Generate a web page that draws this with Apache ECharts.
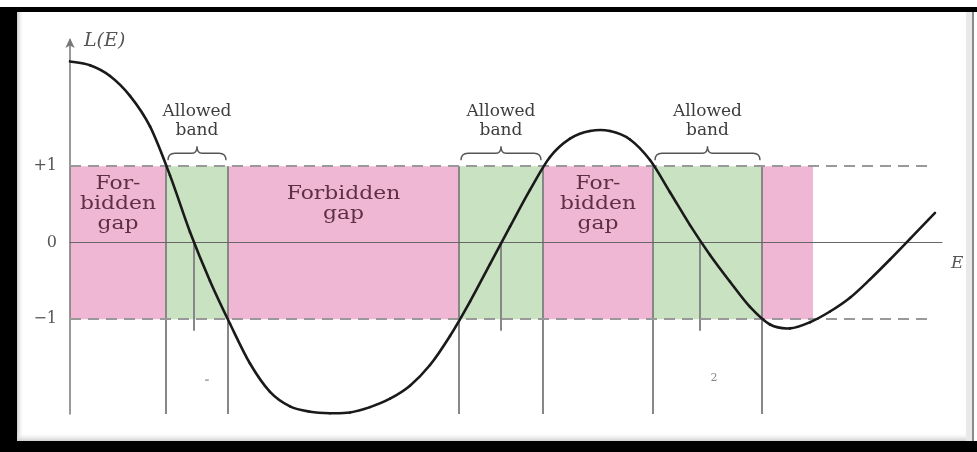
<!DOCTYPE html>
<html>
<head>
<meta charset="utf-8">
<title>L(E) – allowed bands and forbidden gaps</title>
<script src="https://cdn.jsdelivr.net/npm/echarts@6/dist/echarts.min.js"></script>
<style>
  html, body { margin: 0; padding: 0; background: #ffffff; }
  #chart { width: 977px; height: 452px; }
</style>
</head>
<body>
<div id="chart"></div>
<script>
// Dispersion function L(E) sampled along the energy axis
const energy = [0, 0.2, 0.4, 0.6, 0.8, 1.0, 1.2, 1.4, 1.6, 1.8, 2.0, 2.2, 2.4, 2.6, 2.8, 3.0, 3.2, 3.4, 3.6, 3.8, 4.0, 4.2, 4.4, 4.6, 4.8, 5.0, 5.2, 5.4, 5.6, 5.8, 6.0, 6.2, 6.4, 6.6, 6.8, 7.0, 7.2, 7.4, 7.6, 7.8, 8.0, 8.2, 8.4, 8.65];
const lValues = [2.37, 2.32, 2.18, 1.92, 1.52, 0.88, 0.14, -0.50, -1.06, -1.58, -1.95, -2.14, -2.21, -2.23, -2.22, -2.15, -2.04, -1.87, -1.60, -1.22, -0.77, -0.28, 0.21, 0.69, 1.12, 1.36, 1.46, 1.46, 1.35, 1.08, 0.66, 0.23, -0.16, -0.51, -0.84, -1.07, -1.12, -1.04, -0.90, -0.72, -0.48, -0.22, 0.05, 0.39];

// Region boundaries along E and what each region is
const bandEdges = [0, 0.96, 1.58, 3.89, 4.73, 5.83, 6.92, 7.43];
const regionKinds = ['gap', 'band', 'gap', 'band', 'gap', 'band', 'gap'];
const gapLabels = ['For-\nbidden\ngap', '', 'Forbidden\ngap', '', 'For-\nbidden\ngap', '', ''];
const bandLabel = 'Allowed\nband';

// Drop lines: region borders and the zero crossings inside the allowed bands
const borderLines = [0.96, 1.58, 3.89, 4.73, 5.83, 6.92];
const zeroCrossings = [1.24, 4.31, 6.30];
const zeroDropTo = -1.15;

// Limits |L| = 1 and the y tick labels
const levelLines = [1, -1];
const levelEnd = 8.57;
const yTickValues = [-1, 0, 1];
const yTickLabels = ['−1', '0', '+1'];

const xMin = 0, xMax = 8.72;
const yMin = -2.24, yMax = 2.65;

const PINK = '#efb7d3';
const GREEN = '#c9e2c1';
const SERIF = '"DejaVu Serif", "Liberation Serif", serif';

const chart = echarts.init(document.getElementById('chart'), null, { renderer: 'canvas' });

const regions = regionKinds.map((k, i) => [bandEdges[i], bandEdges[i + 1], i]);
const allowed = regions.filter(r => regionKinds[r[2]] === 'band');

function renderRegion(params, api) {
  const a = api.value(0), b = api.value(1), i = api.value(2);
  const p1 = api.coord([a, 1]);
  const p2 = api.coord([b, -1]);
  const children = [{
    type: 'rect',
    shape: { x: p1[0], y: p1[1], width: p2[0] - p1[0], height: p2[1] - p1[1] },
    style: { fill: regionKinds[i] === 'gap' ? PINK : GREEN }
  }];
  if (gapLabels[i]) {
    const c = api.coord([(a + b) / 2, 0.5]);
    children.push({
      type: 'text',
      x: c[0], y: c[1], scaleX: 1.15,
      style: {
        text: gapLabels[i], x: 0, y: 0,
        align: 'center', verticalAlign: 'middle',
        fill: '#5e3046', font: '19px ' + SERIF, lineHeight: 20
      }
    });
  }
  return { type: 'group', children };
}

function renderBrace(params, api) {
  const a = api.coord([api.value(0), 1]);
  const b = api.coord([api.value(1), 1]);
  const xa = a[0] + 2, xb = b[0] - 2, xm = (a[0] + b[0]) / 2;
  const yEnd = a[1] - 6, yMid = a[1] - 13, yTip = a[1] - 20;
  const path = `M${xa},${yEnd} Q${xa},${yMid} ${xa + 7},${yMid} L${xm - 5},${yMid} Q${xm},${yMid} ${xm},${yTip} ` +
               `Q${xm},${yMid} ${xm + 5},${yMid} L${xb - 7},${yMid} Q${xb},${yMid} ${xb},${yEnd}`;
  return {
    type: 'group',
    children: [
      { type: 'path', shape: { pathData: path }, style: { stroke: '#555', lineWidth: 1.4, fill: null } },
      {
        type: 'text',
        style: {
          text: bandLabel, x: xm, y: yTip - 6,
          align: 'center', verticalAlign: 'bottom',
          fill: '#3d3d3d', font: '17px ' + SERIF, lineHeight: 19
        }
      }
    ]
  };
}

function renderDrop(bottom) {
  return function (params, api) {
    const x = api.value(0), top = api.value(1);
    const p1 = api.coord([x, top]);
    const p2 = api.coord([x, bottom]);
    return {
      type: 'line',
      shape: { x1: p1[0], y1: p1[1], x2: p2[0], y2: p2[1] },
      style: { stroke: '#878787', lineWidth: 2 }
    };
  };
}

// One Catmull-Rom segment of the L(E) curve per sample, from this sample to the next
function renderCurveSegment(params, api) {
  const i = params.dataIndexInside;
  const n = params.dataInsideLength;
  if (i >= n - 1) return null;
  const pt = k => {
    const j = Math.max(0, Math.min(n - 1, k));
    return api.coord([api.value(0, j), api.value(1, j)]);
  };
  const p0 = pt(i - 1), p1 = pt(i), p2 = pt(i + 1), p3 = pt(i + 2);
  const c1 = [p1[0] + (p2[0] - p0[0]) / 6, p1[1] + (p2[1] - p0[1]) / 6];
  const c2 = [p2[0] - (p3[0] - p1[0]) / 6, p2[1] - (p3[1] - p1[1]) / 6];
  return {
    type: 'bezierCurve',
    shape: { x1: p1[0], y1: p1[1], cpx1: c1[0], cpy1: c1[1], cpx2: c2[0], cpy2: c2[1], x2: p2[0], y2: p2[1] },
    style: { stroke: '#1a1a1a', lineWidth: 2.6, fill: null, lineCap: 'round' }
  };
}

const option = {
  backgroundColor: '#ffffff',
  animation: false,
  grid: { left: 70, right: 35, top: 40, bottom: 38, containLabel: false },
  xAxis: {
    type: 'value', min: xMin, max: xMax, z: 4,
    axisLine: { onZero: true, lineStyle: { color: '#666', width: 1 } },
    axisTick: { show: false }, axisLabel: { show: false }, splitLine: { show: false },
    name: 'E', nameLocation: 'end', nameGap: 9,
    nameTextStyle: { fontFamily: SERIF, fontStyle: 'italic', fontSize: 17, color: '#555',
                     verticalAlign: 'top', padding: [12, 0, 0, 0] }
  },
  yAxis: {
    type: 'value', min: yMin, max: yMax, z: 4,
    axisLine: { show: true, lineStyle: { color: '#777', width: 1.5 },
                symbol: ['none', 'arrow'], symbolSize: [7, 10], symbolOffset: [0, 2] },
    axisTick: { show: false }, splitLine: { show: false },
    axisLabel: {
      customValues: yTickValues,
      formatter: v => yTickLabels[yTickValues.indexOf(Math.round(v))],
      fontFamily: SERIF, fontSize: 16, color: '#555', margin: 13
    },
    name: 'L(E)', nameLocation: 'end', nameGap: -11,
    nameTextStyle: { fontFamily: SERIF, fontStyle: 'italic', fontSize: 19, color: '#555',
                     align: 'left', padding: [0, 0, 0, 14] }
  },
  series: [
    {
      type: 'custom', name: 'regions', z: 1, silent: true,
      renderItem: renderRegion, data: regions
    },
    {
      type: 'custom', name: 'borders', z: 3, silent: true,
      renderItem: renderDrop(yMin), data: borderLines.map(x => [x, 1])
    },
    {
      type: 'custom', name: 'zero drops', z: 3, silent: true,
      renderItem: renderDrop(zeroDropTo), data: zeroCrossings.map(x => [x, 0])
    },
    {
      type: 'custom', name: 'allowed braces', z: 3, silent: true,
      renderItem: renderBrace, data: allowed
    },
    {
      type: 'line', name: 'limits', z: 5, silent: true, data: [],
      markLine: {
        silent: true, symbol: ['none', 'none'], label: { show: false },
        lineStyle: { color: '#999', width: 1.8, type: [11, 7] },
        data: levelLines.map(v => [{ coord: [xMin, v] }, { coord: [levelEnd, v] }])
      }
    },
    {
      type: 'custom', name: 'L(E)', z: 6, silent: true,
      renderItem: renderCurveSegment,
      data: energy.map((e, i) => [e, lValues[i]])
    }
  ],
  graphic: [
    // picture frame
    { type: 'rect', shape: { x: 0, y: 7, width: 977, height: 5 }, style: { fill: '#000' }, z: 100 },
    { type: 'rect', shape: { x: 0, y: 7, width: 17, height: 445 }, style: { fill: '#000' }, z: 100 },
    { type: 'rect', shape: { x: 0, y: 441, width: 977, height: 11 }, style: { fill: '#000' }, z: 100 },
    { type: 'rect', shape: { x: 17, y: 12, width: 7, height: 429 }, z: 99,
      style: { fill: new echarts.graphic.LinearGradient(0, 0, 1, 0, [{ offset: 0, color: '#c8c8c8' }, { offset: 1, color: 'rgba(255,255,255,0)' }]) } },
    { type: 'rect', shape: { x: 17, y: 432, width: 956, height: 9 }, z: 99,
      style: { fill: new echarts.graphic.LinearGradient(0, 0, 0, 1, [{ offset: 0, color: 'rgba(255,255,255,0)' }, { offset: 1, color: '#cfcfcf' }]) } },
    { type: 'rect', shape: { x: 966, y: 12, width: 6, height: 429 }, style: { fill: '#e9e9e9' }, z: 99 },
    { type: 'rect', shape: { x: 972, y: 12, width: 2, height: 429 }, style: { fill: '#8a8a8a' }, z: 99 },
    // faint small marks below the bands
    { type: 'text', style: { text: '-', x: 207, y: 381, align: 'center', verticalAlign: 'middle', fill: '#aaa', font: 'bold 12px ' + SERIF }, z: 99 },
    { type: 'text', style: { text: '2', x: 714, y: 378, align: 'center', verticalAlign: 'middle', fill: '#888', font: '11px ' + SERIF }, z: 99 }
  ]
};

chart.setOption(option);
</script>
</body>
</html>
